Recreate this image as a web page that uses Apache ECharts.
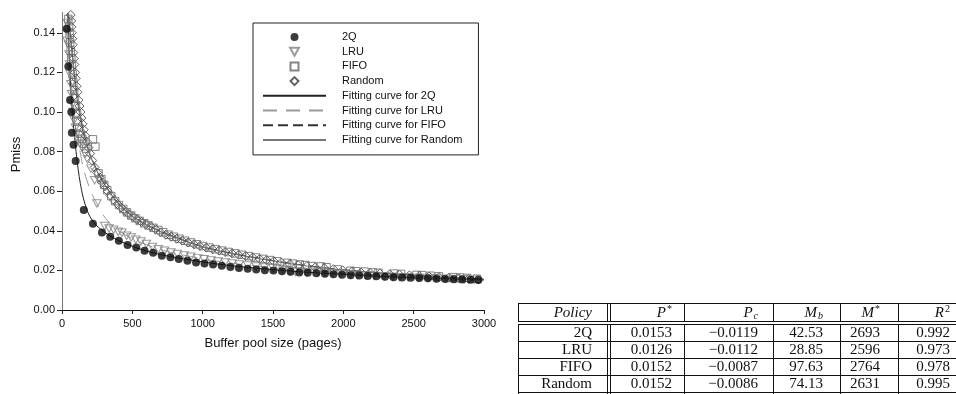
<!DOCTYPE html>
<html><head><meta charset="utf-8">
<script src="https://cdn.jsdelivr.net/npm/echarts@6/dist/echarts.min.js"></script>
<style>html,body{margin:0;padding:0;background:#fff}#c{width:956px;height:394px}</style>
</head><body><div id="c"></div>
<script>
// ---------- axis ticks ----------
const xTicks = [0, 500, 1000, 1500, 2000, 2500, 3000];
const yTicks = [0, 0.02, 0.04, 0.06, 0.08, 0.10, 0.12, 0.14];
const xTitle = 'Buffer pool size (pages)';
const yTitle = 'Pmiss';

// ---------- series names ----------
const pointNames = ['2Q', 'LRU', 'FIFO', 'Random'];
const fitNames = ['Fitting curve for 2Q', 'Fitting curve for LRU', 'Fitting curve for FIFO', 'Fitting curve for Random'];

// ---------- measured points [pages, Pmiss] ----------
const points2Q = [[33,0.142],[45,0.123],[57,0.106],[66,0.100],[70,0.0895],[82,0.0835],[97,0.0753],[155,0.0505],[220,0.0435],[284,0.0392],
 [343,0.0370],[404,0.0350],[466,0.0328],[528,0.0316],[587,0.0299],[648,0.0289],[710,0.0274],[771,0.0266],[830,0.0257],[892,0.0249],[953,0.0240],
 [1013,0.0235],[1074,0.0230],[1136,0.0224],[1197,0.0217],[1258,0.0212],[1320,0.0208],[1381,0.0204],[1442,0.0201],[1503,0.0199],[1564,0.0196],
 [1625,0.0193],[1686,0.0190],[1747,0.0188],[1808,0.0185],[1869,0.0183],[1930,0.0180],[1991,0.0178],[2052,0.0176],[2113,0.0174],[2174,0.0172],
 [2235,0.0170],[2296,0.0168],[2357,0.0166],[2418,0.0164],[2479,0.0163],[2540,0.0161],[2601,0.0160],[2662,0.0158],[2723,0.0157],[2784,0.0155],
 [2845,0.0154],[2906,0.0153],[2960,0.0152]];
const pointsLRU = [[35,0.136],[38,0.145],[42,0.140],[46,0.134],[50,0.129],[54,0.124],[58,0.119],[63,0.114],[68,0.109],[74,0.104],[80,0.100],
 [87,0.096],[95,0.092],[104,0.089],[115,0.086],[128,0.084],[145,0.082],[165,0.079],[182,0.0760],[206,0.0714],[232,0.0655],[248,0.0538],
 [303,0.0424],[335,0.0412],[367,0.0405],[400,0.0395],[426,0.0390],[460,0.0375],[492,0.0366],[525,0.0355],[561,0.0346],[600,0.0333],[643,0.0318],
 [685,0.0307],[729,0.0299],[775,0.0290],[820,0.0283],[870,0.0275],[916,0.0269],[965,0.0262],[1010,0.0256],[1060,0.0250],[1110,0.0245],
 [1160,0.0240],[1210,0.0235],[1260,0.0230],[1320,0.0225],[1380,0.0220],[1440,0.0215],[1500,0.0211],[1570,0.0205],[1620,0.0195],[1660,0.0192],
 [1700,0.0193],[1740,0.0190],[1820,0.0192],[1870,0.0188],[1920,0.0186],[1980,0.0184],[2050,0.0178],[2100,0.0176],[2160,0.0174],[2220,0.0172],
 [2290,0.0170],[2350,0.0168],[2400,0.0166],[2460,0.0165],[2530,0.0163],[2600,0.0162],[2660,0.0160],[2730,0.0158],[2800,0.0157],[2860,0.0155],[2930,0.0153]];
const pointsFIFO = [[45,0.147],[50,0.143],[54,0.139],[58,0.135],[62,0.131],[66,0.127],[70,0.123],[75,0.119],[80,0.115],[86,0.111],[92,0.107],
 [99,0.103],[106,0.099],[114,0.095],[122,0.092],[132,0.089],[144,0.0865],[158,0.084],[172,0.0815],[220,0.0862],[237,0.0825],[260,0.0690],
 [280,0.0660],[300,0.0632],[322,0.0605],[350,0.0575],[378,0.0550],[405,0.0530],[435,0.0510],[462,0.0493],[492,0.0477],[522,0.0463],[552,0.0450],
 [585,0.0438],[615,0.0427],[650,0.0415],[685,0.0404],[720,0.0393],[758,0.0380],[795,0.0370],[835,0.0360],[875,0.0350],[917,0.0341],[960,0.0332],
 [1003,0.0323],[1048,0.0315],[1092,0.0307],[1138,0.0300],[1185,0.0293],[1232,0.0286],[1280,0.0279],[1330,0.0272],[1380,0.0265],[1430,0.0258],
 [1480,0.0252],[1530,0.0246],[1600,0.0238],[1640,0.0234],[1690,0.0230],[1730,0.0227],[1780,0.0222],[1840,0.0220],[1880,0.0216],[1960,0.0205],
 [2050,0.0198],[2090,0.0196],[2150,0.0194],[2210,0.0190],[2250,0.0188],[2360,0.0184],[2410,0.0182],[2520,0.0177],[2560,0.0176],[2620,0.0173],
 [2680,0.0170],[2780,0.0166],[2830,0.0164],[2880,0.0162],[2950,0.0158]];
const pointsRandom = [[62,0.149],[65,0.146],[67,0.143],[70,0.140],[73,0.137],[76,0.134],[80,0.130],[84,0.127],[88,0.124],[93,0.120],[98,0.117],
 [104,0.113],[110,0.110],[117,0.106],[124,0.103],[131,0.100],[138,0.097],[146,0.094],[155,0.091],[165,0.088],[176,0.085],[188,0.082],[200,0.079],
 [215,0.0755],[232,0.072],[250,0.0695],[268,0.067],[286,0.0645],[305,0.0625],[325,0.0600],
 [345,0.0578],[370,0.0555],[395,0.0535],[420,0.0517],[448,0.0500],[475,0.0485],[505,0.0470],[535,0.0457],[565,0.0445],[598,0.0433],[630,0.0422],
 [665,0.0408],[700,0.0392],[738,0.0380],[775,0.0370],[815,0.0360],[855,0.0350],[895,0.0341],[938,0.0332],[980,0.0323],[1025,0.0315],[1070,0.0307],
 [1115,0.0300],[1160,0.0293],[1208,0.0286],[1255,0.0279],[1305,0.0272],[1355,0.0265],[1405,0.0258],[1455,0.0252],[1505,0.0246],[1560,0.0240],
 [1620,0.0232],[1680,0.0226],[1740,0.0221],[1800,0.0216],[1865,0.0211],[1930,0.0206],[1995,0.0200],[2060,0.0194],[2125,0.0190],[2190,0.0187],
 [2260,0.0184],[2330,0.0181],[2400,0.0178],[2470,0.0175],[2540,0.0172],[2610,0.0169],[2680,0.0166],[2750,0.0163],[2820,0.0160],[2890,0.0157],[2960,0.0154]];

// ---------- fitting curves ----------
const fit2Q = [[40,0.150],[50,0.130],[60,0.115],[70,0.103],[80,0.094],[90,0.087],[100,0.080],[115,0.071],[130,0.064],[150,0.057],[175,0.051],
 [200,0.047],[240,0.0430],[284,0.0403],[340,0.0375],[400,0.0352],[500,0.0322],[600,0.0298],[700,0.0280],[800,0.0266],[1000,0.0243],[1200,0.0224],
 [1400,0.0210],[1600,0.0198],[1800,0.0188],[2000,0.0180],[2300,0.0170],[2600,0.0162],[3000,0.0152]];
const fitLRU = [[40,0.150],[55,0.128],[70,0.112],[85,0.099],[100,0.091],[115,0.085],[130,0.0795],[150,0.072],[177,0.0655],[210,0.059],[248,0.0538],
 [285,0.0490],[319,0.0454],[360,0.0425],[420,0.0393],[500,0.0360],[600,0.0330],[700,0.0305],[800,0.0287],[1000,0.0258],[1200,0.0237],[1400,0.0221],
 [1600,0.0207],[1800,0.0196],[2000,0.0187],[2300,0.0175],[2600,0.0165],[3000,0.0153]];
const fitFIFO = [[45,0.150],[60,0.140],[80,0.125],[100,0.112],[120,0.102],[150,0.091],[180,0.083],[200,0.0785],[250,0.0705],[300,0.064],[350,0.0585],
 [400,0.054],[500,0.0475],[600,0.0432],[700,0.0398],[800,0.0370],[1000,0.0320],[1200,0.0288],[1400,0.0262],[1600,0.0238],[1800,0.0219],
 [2000,0.0203],[2200,0.0191],[2500,0.0176],[2800,0.0163],[3000,0.0155]];
const fitRandom = [[45,0.150],[60,0.139],[80,0.124],[100,0.111],[120,0.101],[150,0.090],[180,0.0825],[200,0.078],[250,0.070],[300,0.0637],[350,0.0583],
 [400,0.0538],[500,0.0473],[600,0.0430],[700,0.0396],[800,0.0368],[1000,0.0318],[1200,0.0286],[1400,0.0260],[1600,0.0236],[1800,0.0217],
 [2000,0.0201],[2200,0.0190],[2500,0.0175],[2800,0.0162],[3000,0.0154]];

// ---------- table ----------
const tableHeaders = ['{i|Policy}', '{i|P}{sup|*}', '{i|P}{sub|c}', '{i|M}{sub|b}', '{i|M}{sup|*}', '{i|R}{sup|2}'];
const tablePolicy = ['2Q', 'LRU', 'FIFO', 'Random'];
const tablePStar = [0.0153, 0.0126, 0.0152, 0.0152];
const tablePc = [-0.0119, -0.0112, -0.0087, -0.0086];
const tableMb = [42.53, 28.85, 97.63, 74.13];
const tableMStar = [2693, 2596, 2764, 2631];
const tableR2 = [0.992, 0.973, 0.978, 0.995];

// ---------- layout / style ----------
const SANS = '"Liberation Sans", Arial, Helvetica, sans-serif';
const SERIF = '"Liberation Serif", "DejaVu Serif", serif';
const fmtMinus = v => (v < 0 ? '\u2212' : '') + Math.abs(v).toFixed(4);
const tableCols = [
  tablePolicy,
  tablePStar.map(v => v.toFixed(4)),
  tablePc.map(fmtMinus),
  tableMb.map(v => v.toFixed(2)),
  tableMStar.map(v => String(v)),
  tableR2.map(v => v.toFixed(3))
];
const colEdges = [518, 607, 684, 773, 840, 898, 960];
const colPad = [15, 12, 15, 17, 18, 10];
const hdrTop = 303, hdrBot = 321, bodyTop = 324, rowH = 17;

function buildTable() {
  const g = [];
  const ln = (x1, y1, x2, y2) => g.push({type: 'line', silent: true, z: 10,
    shape: {x1, y1, x2, y2}, style: {stroke: '#111', lineWidth: 1}});
  const xr = colEdges[0] + 0.5, xe = colEdges[colEdges.length - 1];
  ln(xr, hdrTop + 0.5, xe, hdrTop + 0.5);
  ln(xr, hdrBot + 0.5, xe, hdrBot + 0.5);
  ln(xr, bodyTop + 0.5, xe, bodyTop + 0.5);
  for (let r = 1; r <= tablePolicy.length; r++) {
    const y = bodyTop + r * rowH + 0.5;
    ln(xr, y, xe, y);
  }
  const vx = colEdges.slice(0, colEdges.length - 1).concat([colEdges[1] + 3]);
  vx.forEach(x => {
    ln(x + 0.5, hdrTop, x + 0.5, hdrBot + 1);
    ln(x + 0.5, bodyTop, x + 0.5, 400);
  });
  const rich = {
    i: {fontFamily: SERIF, fontStyle: 'italic', fontSize: 15, fill: '#111'},
    sup: {fontFamily: SERIF, fontSize: 10, fill: '#111', padding: [0, 0, 8, 1]},
    sub: {fontFamily: SERIF, fontStyle: 'italic', fontSize: 10, fill: '#111', padding: [7, 0, 0, 1]}
  };
  tableHeaders.forEach((h, c) => {
    g.push({type: 'text', silent: true, z: 11,
      style: {text: h, rich, x: colEdges[c + 1] - colPad[c], y: (hdrTop + hdrBot) / 2 + 1,
        align: 'right', verticalAlign: 'middle', fontFamily: SERIF, fontSize: 15, fill: '#111'}});
  });
  tableCols.forEach((col, c) => {
    col.forEach((txt, r) => {
      g.push({type: 'text', silent: true, z: 11,
        style: {text: txt, x: colEdges[c + 1] - colPad[c], y: bodyTop + r * rowH + rowH / 2 + 1,
          align: 'right', verticalAlign: 'middle', fontFamily: SERIF, fontSize: 15, fill: '#111'}});
    });
  });
  return g;
}

const hollow = (c) => ({color: 'rgba(0,0,0,0)', borderColor: c, borderWidth: 1});
const noMarker = {color: 'rgba(0,0,0,0)', borderWidth: 0, opacity: 0};

const option = {
  animation: false,
  backgroundColor: '#fff',
  grid: {left: 62, right: 472, top: 13, bottom: 84, containLabel: false},
  xAxis: [{
    type: 'value', min: 0, max: 3000, interval: 500,
    name: xTitle, nameLocation: 'middle', nameGap: 27,
    nameTextStyle: {fontFamily: SANS, fontSize: 13, color: '#111'},
    axisLine: {show: true, lineStyle: {color: '#222', width: 1}},
    axisTick: {show: true, inside: false, length: 4, lineStyle: {color: '#222'}},
    axisLabel: {fontFamily: SANS, fontSize: 11, color: '#111', margin: 8,
      formatter: v => xTicks.indexOf(v) >= 0 ? String(v) : ''},
    splitLine: {show: false}
  }, {
    type: 'value', position: 'top', min: 0, max: 3000,
    axisLine: {show: true, lineStyle: {color: '#111', width: 1}},
    axisTick: {show: false}, axisLabel: {show: false}, splitLine: {show: false}
  }],
  yAxis: [{
    type: 'value', min: 0, max: 0.15, interval: 0.02,
    name: yTitle, nameLocation: 'middle', nameGap: 39, nameRotate: 90,
    nameTextStyle: {fontFamily: SANS, fontSize: 13, color: '#111', padding: [0, 0, 0, 14]},
    axisLine: {show: true, lineStyle: {color: '#222', width: 1}},
    axisTick: {show: true, inside: false, length: 5, lineStyle: {color: '#222'}, customValues: yTicks},
    axisLabel: {fontFamily: SANS, fontSize: 11, color: '#111', margin: 7, customValues: yTicks,
      formatter: v => v.toFixed(2)},
    splitLine: {show: false}
  }, {
    type: 'value', position: 'right', min: 0, max: 0.15,
    axisLine: {show: true, lineStyle: {color: '#777', width: 1}},
    axisTick: {show: false}, axisLabel: {show: false}, splitLine: {show: false}
  }],
  legend: {
    orient: 'vertical', left: 253, top: 23,
    padding: [7, 16, 8, 9],
    itemWidth: 63, itemHeight: 8, itemGap: 0.7,
    borderColor: '#222', borderWidth: 1, backgroundColor: '#fff',
    symbolKeepAspect: true,
    textStyle: {fontFamily: SANS, fontSize: 11, color: '#111', padding: [0, 0, 0, 11], lineHeight: 14},
    data: [
      {name: pointNames[0], icon: 'circle'},
      {name: pointNames[1], icon: 'path://M0,0L10,0L5,9Z'},
      {name: pointNames[2], icon: 'path://M0,0L10,0L10,10L0,10Z'},
      {name: pointNames[3], icon: 'path://M5,0L10,5L5,10L0,5Z'},
      {name: fitNames[0], itemStyle: noMarker},
      {name: fitNames[1], itemStyle: noMarker},
      {name: fitNames[2], itemStyle: noMarker},
      {name: fitNames[3], itemStyle: noMarker}
    ],
    selectedMode: false
  },
  series: [
    {name: fitNames[0], type: 'line', data: fit2Q, smooth: 0.3, symbol: 'none', z: 2,
      lineStyle: {color: '#222', width: 1, type: 'solid'}, itemStyle: {color: '#222'}},
    {name: fitNames[1], type: 'line', data: fitLRU, smooth: 0.3, symbol: 'none', z: 2,
      lineStyle: {color: '#999', width: 1, type: [14, 9]}, itemStyle: {color: '#999'}},
    {name: fitNames[2], type: 'line', data: fitFIFO, smooth: 0.3, symbol: 'none', z: 2,
      lineStyle: {color: '#333', width: 1, type: [10, 5]}, itemStyle: {color: '#333'}},
    {name: fitNames[3], type: 'line', data: fitRandom, smooth: 0.3, symbol: 'none', z: 2,
      lineStyle: {color: '#777', width: 1.2, type: 'solid'}, itemStyle: {color: '#777'}},
    {name: pointNames[3], type: 'scatter', data: pointsRandom, symbol: 'diamond', symbolSize: 9, z: 3,
      itemStyle: hollow('#3a3a3a')},
    {name: pointNames[2], type: 'scatter', data: pointsFIFO, symbol: 'rect', symbolSize: 7.5, z: 3,
      itemStyle: hollow('#666')},
    {name: pointNames[1], type: 'scatter', data: pointsLRU, symbol: 'triangle', symbolRotate: 180, symbolSize: [8.5, 7.5], z: 3,
      itemStyle: hollow('#808080')},
    {name: pointNames[0], type: 'scatter', data: points2Q, symbol: 'circle', symbolSize: 8, z: 4,
      itemStyle: {color: '#0a0a0a'}}
  ],
  graphic: buildTable()
};

const chart = echarts.init(document.getElementById('c'), null, {renderer: 'canvas'});
chart.setOption(option);
</script>
</body></html>
